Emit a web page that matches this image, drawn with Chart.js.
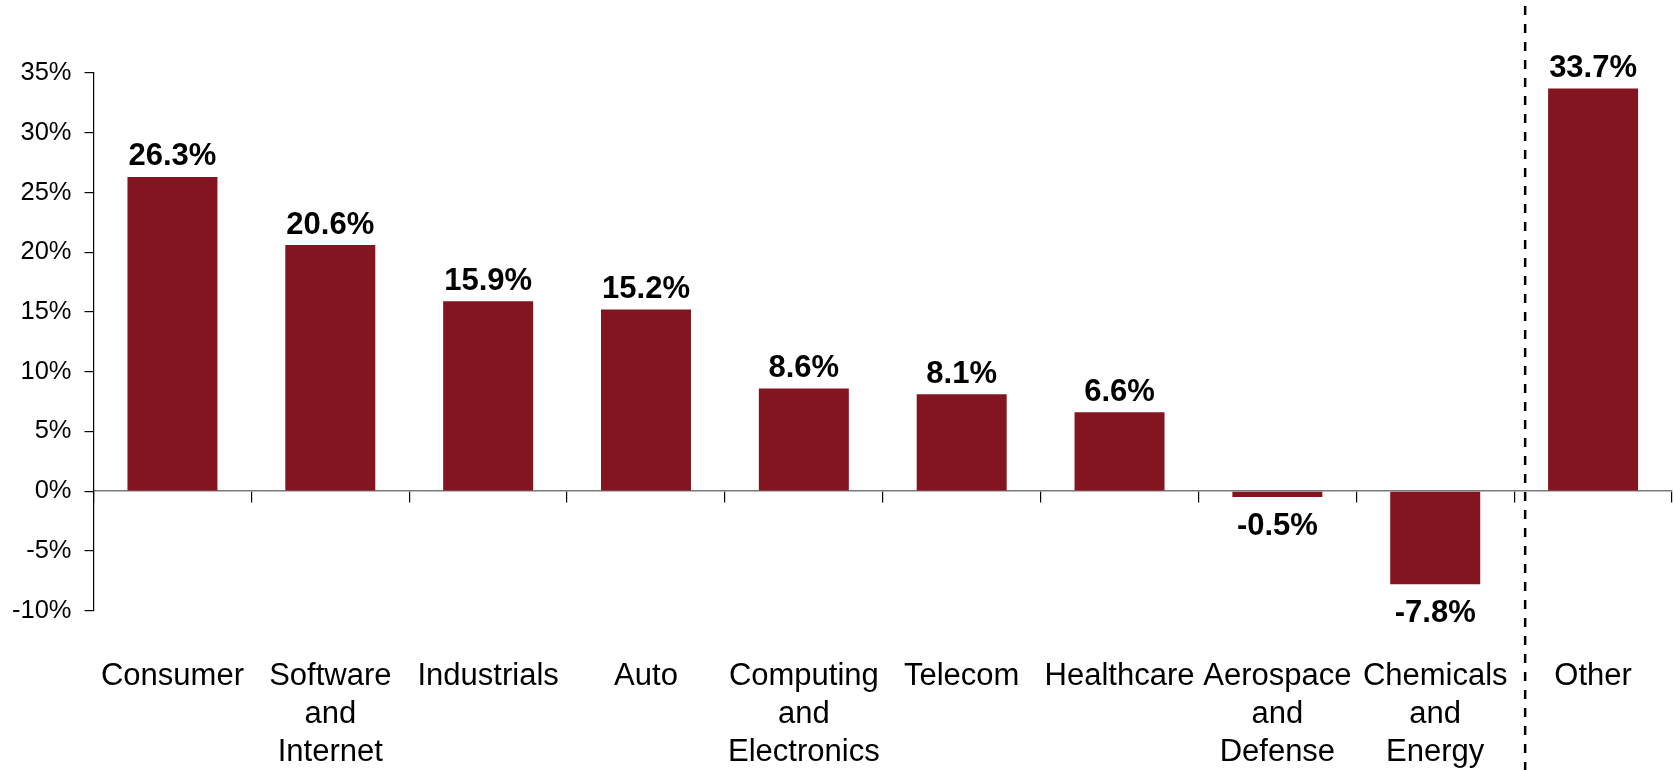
<!DOCTYPE html>
<html>
<head>
<meta charset="utf-8">
<script src="https://cdn.jsdelivr.net/npm/chart.js@4/dist/chart.umd.min.js"></script>
<style>
  html, body { margin: 0; padding: 0; background: #ffffff; }
  #wrap { width: 1674px; height: 770px; }
</style>
</head>
<body>
<div id="wrap"><canvas id="chart" width="1674" height="770"></canvas></div>
<script>
// Sector categories (multi-line labels)
const categories = [
  ["Consumer"],
  ["Software", "and", "Internet"],
  ["Industrials"],
  ["Auto"],
  ["Computing", "and", "Electronics"],
  ["Telecom"],
  ["Healthcare"],
  ["Aerospace", "and", "Defense"],
  ["Chemicals", "and", "Energy"],
  ["Other"]
];

// Percentage change per sector
const changes = [26.3, 20.6, 15.9, 15.2, 8.6, 8.1, 6.6, -0.5, -7.8, 33.7];

// Value axis ticks (percent)
const yTicks = [-10, -5, 0, 5, 10, 15, 20, 25, 30, 35];

const BAR_COLOR = "#82151F";
const FONT = "'Liberation Sans', Arial, Helvetica, sans-serif";

// Bold value labels above / below each bar
const valueLabels = {
  id: "valueLabels",
  afterDatasetsDraw(chart) {
    const ctx = chart.ctx;
    const meta = chart.getDatasetMeta(0);
    ctx.save();
    ctx.font = "bold 31px " + FONT;
    ctx.fillStyle = "#000000";
    ctx.textAlign = "center";
    ctx.textBaseline = "alphabetic";
    meta.data.forEach((bar, i) => {
      const v = changes[i];
      const txt = v.toFixed(1) + "%";
      const y = v >= 0 ? bar.y - 11.5 : bar.y + 38;
      ctx.fillText(txt, bar.x, y);
    });
    ctx.restore();
  }
};

// Dashed separator before the "Other" column
const separator = {
  id: "separator",
  afterDraw(chart) {
    const x = chart.scales.x;
    const n = categories.length;
    const xpos = (x.getPixelForValue(n - 2) + x.getPixelForValue(n - 1)) / 2 + 11;
    const ctx = chart.ctx;
    ctx.save();
    ctx.strokeStyle = "#000000";
    ctx.lineWidth = 2.5;
    ctx.setLineDash([9, 9]);
    ctx.beginPath();
    ctx.moveTo(xpos, 6);
    ctx.lineTo(xpos, chart.height);
    ctx.stroke();
    ctx.restore();
  }
};

new Chart(document.getElementById("chart"), {
  type: "bar",
  data: {
    labels: categories,
    datasets: [{
      data: changes,
      backgroundColor: BAR_COLOR,
      borderWidth: 0,
      categoryPercentage: 1,
      barPercentage: 0.57
    }]
  },
  options: {
    responsive: false,
    animation: false,
    events: [],
    layout: { padding: { top: 73, right: 2, left: -1, bottom: -5 } },
    plugins: {
      legend: { display: false },
      tooltip: { enabled: false }
    },
    scales: {
      x: {
        type: "category",
        offset: true,
        border: { display: false },
        // hidden grid; the tick length only spaces the labels below the plot
        grid: { display: false, drawTicks: true, tickLength: 44 },
        ticks: {
          autoSkip: false,
          maxRotation: 0,
          minRotation: 0,
          padding: 3,
          color: "#000000",
          font: { family: FONT, size: 31, lineHeight: 1.23 }
        }
      },
      x2: {
        type: "category",
        position: { y: 0 },
        offset: true,
        border: { display: true, color: "#7a7a7a", width: 1.5 },
        grid: {
          display: true,
          offset: true,
          drawOnChartArea: false,
          drawTicks: true,
          tickLength: 11,
          tickColor: "#000000",
          lineWidth: 1.2
        },
        ticks: { display: false }
      },
      y: {
        min: -10,
        max: 35,
        afterBuildTicks(scale) {
          scale.ticks = yTicks.map(v => ({ value: v }));
        },
        border: { display: true, color: "#000000", width: 1.2 },
        grid: {
          display: true,
          drawOnChartArea: false,
          drawTicks: true,
          tickLength: 9,
          tickColor: "#000000",
          lineWidth: 1.2
        },
        ticks: {
          padding: 13,
          color: "#000000",
          font: { family: FONT, size: 25.5 },
          callback: v => v + "%"
        }
      }
    }
  },
  plugins: [valueLabels, separator]
});
</script>
</body>
</html>
